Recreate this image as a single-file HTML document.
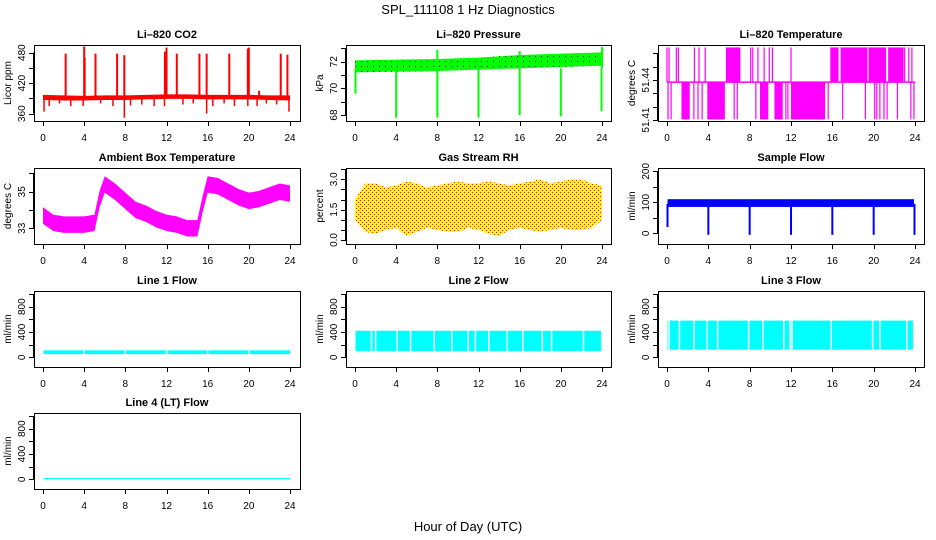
<!DOCTYPE html>
<html><head><meta charset="utf-8"><style>
html,body{margin:0;padding:0;background:#fff;}
svg{display:block;font-family:"Liberation Sans",sans-serif;}
</style></head><body>
<svg id="fig" width="936" height="540" viewBox="0 0 936 540" xmlns="http://www.w3.org/2000/svg">
<defs>
<pattern id="dotsBlack" width="6" height="5" patternUnits="userSpaceOnUse"><rect x="1" y="1" width="1" height="1" fill="#000"/></pattern>
<pattern id="dotsRed" width="4" height="4" patternUnits="userSpaceOnUse"><rect x="0" y="0" width="1" height="1" fill="#f00"/><rect x="2" y="2" width="1" height="1" fill="#f00"/></pattern>
</defs>
<text x="468" y="14" font-size="13" text-anchor="middle">SPL_111108  1 Hz Diagnostics</text>
<text x="468" y="531" font-size="13" text-anchor="middle">Hour of Day (UTC)</text>
</svg>
<script>
// ---------- data ----------
const xTicks = [0,4,8,12,16,20,24];
// CO2
const co2BandHours = [0,2,4,6,8,10,12,14,16,18,20,22,24];
const co2BandLo = [387,386,386,387,387,388,389,389,388,388,388,387,386];
const co2BandHi = [397,396,395,396,396,397,398,398,397,397,397,396,396];
const co2UpHours = [2.2,4.0,4.05,5.1,7.2,7.9,11.85,12.0,13.0,15.2,15.9,18.1,19.9,20.0,21.0,23.1,23.75];
const co2UpVals  = [478,492,470,478,478,475,482,490,478,478,478,478,488,490,405,478,476];
const co2DnHours = [0.1,0.6,1.6,2.7,3.9,5.6,6.8,7.9,8.5,9.6,10.8,11.8,13.6,14.6,15.9,16.5,17.6,18.6,19.9,20.8,21.7,22.7,23.9];
const co2DnVals  = [364,375,380,375,375,380,375,352,376,378,375,375,378,380,360,375,380,375,375,375,380,378,364];
// Pressure
const presHours = [0,4,8,12,16,20,24];
const presLo = [71.2,71.25,71.3,71.4,71.5,71.6,71.7];
const presHi = [72.1,72.15,72.2,72.3,72.5,72.6,72.7];
const presDipHours = [0.05,4,8,12,16,20,23.95];
const presDipVals = [69.6,67.8,67.8,67.8,68.0,67.9,68.3];
const presTopHours = [8.0,16.0,24.0];
const presTopVals = [72.9,72.8,73.1];
// Li-820 temperature (levels)
const tempLevels = [51.4105,51.4385,51.4645];
const tempTopRanges = [[5.7,7.1],[15.8,16.6],[16.8,19.4],[19.5,21.2],[21.4,22.9]];
const tempTopLines = [0.0,0.2,0.9,1.1,2.65,3.1,3.7,8.1,8.3,8.8,9.4,9.9,10.2,12.0,23.0,23.4,23.7];
const tempBotRanges = [[1.4,2.2],[3.9,5.6],[9.0,9.8],[10.4,11.2],[12.0,15.3]];
const tempBotLines = [0.1,0.4,2.6,3.0,3.4,6.5,6.8,8.6,11.5,11.7,15.6,17.0,19.2,20.1,20.3,20.6,21.0,21.3,22.3,23.6,23.9];
// Ambient box temperature
const ambHours = [0,1,2,3,4,5,5.5,6,7,8,9,10,11,12,13,14,15,15.5,16,17,18,19,20,21,22,23,24];
const ambMid = [33.7,33.3,33.2,33.2,33.2,33.3,34.6,35.4,35.0,34.5,34.0,33.8,33.5,33.3,33.2,33.0,33.0,34.3,35.4,35.3,35.0,34.7,34.5,34.6,34.8,35.0,34.9];
// Gas stream RH
const rhHours = [0,1,2,3,4,5,6,7,8,9,10,11,12,13,14,15,16,17,18,19,20,21,22,23,24];
const rhHi = [2.0,2.8,2.8,2.6,2.7,2.9,2.8,2.6,2.7,2.8,2.9,2.8,2.8,2.9,2.8,2.7,2.8,2.9,3.0,2.8,2.9,3.0,3.0,2.8,2.7];
const rhLo = [1.0,0.4,0.3,0.5,0.6,0.2,0.4,0.6,0.5,0.4,0.4,0.6,0.5,0.3,0.2,0.5,0.6,0.5,0.4,0.5,0.6,0.5,0.5,0.6,1.0];
// Sample flow
const sfLo = 85, sfHi = 110;
const sfDipHours = [0.05,4,8,12,16,20,23.95];
const sfDipVals = [20,-5,-5,-5,-5,-5,-5];
// Line flows
const l1Lo = 50, l1Hi = 110;
const l1Gaps = [4,8,12,16,20];
const l2Lo = 100, l2Hi = 420;
const l2Gaps = [1.6,2.0,4.1,5.4,7.7,9.4,11.0,11.7,13.0,14.8,16.3,18.2,19.1,22.2];
const l3Lo = 120, l3Hi = 580;
const l3Gaps = [0.2,1.2,2.6,3.9,4.9,7.9,9.3,11.3,11.9,12.1,15.9,19.9,20.6,23.2];
const l4Lo = 3, l4Hi = 20;

// ---------- layout ----------
const svg = document.getElementById('fig');
const NS = 'http://www.w3.org/2000/svg';
const COLS = [{l:34,r:300,x0:43,x24:290},{l:346,r:611,x0:355,x24:602},{l:658,r:924,x0:667,x24:915}];
const ROWS = [{t:45,b:121},{t:168,b:244},{t:291,b:367},{t:413,b:489}];
function mk(tag, attrs, parent){const e=document.createElementNS(NS,tag);for(const k in attrs)e.setAttribute(k,attrs[k]);(parent||svg).appendChild(e);return e;}

function panel(name,col,row,title,ylab,lo,hi,yt,ylabels){
  const C=COLS[col],R=ROWS[row];
  const g=mk('g',{});
  
  
  const P={g,C,R,
    x:h=>C.x0+(C.x24-C.x0)*h/24,
    y:v=>R.b-(v-lo)/(hi-lo)*(R.b-R.t)};
  P.plot=mk('g',{},g);
  
  
  const t=mk('text',{x:(C.l+C.r)/2,y:R.t-7,'font-size':11,'font-weight':'bold','text-anchor':'middle'},g);
  t.textContent=title;
  
  
  const yl=mk('text',{transform:`translate(${C.l-23},${(R.t+R.b)/2}) rotate(-90)`,'font-size':10,'text-anchor':'middle'},g);
  yl.textContent=ylab;
  
  
  const ax=mk('g',{stroke:'#000','stroke-width':1,'shape-rendering':'crispEdges'},g);
  
  
  mk('line',{x1:P.x(0),x2:P.x(24),y1:R.b+0.5,y2:R.b+0.5},ax);
  xTicks.forEach(h=>{
    mk('line',{x1:Math.round(P.x(h))+0.5,x2:Math.round(P.x(h))+0.5,y1:R.b,y2:R.b+5},ax);
    const tx=mk('text',{x:P.x(h),y:R.b+20,'font-size':10,'text-anchor':'middle',stroke:'none'},g);
    tx.textContent=h;
    
    
  });
  mk('line',{x1:C.l-0.5,x2:C.l-0.5,y1:P.y(yt[0]),y2:P.y(yt[yt.length-1])},ax);
  yt.forEach(v=>{
    const yy=Math.round(P.y(v))+0.5;
    mk('line',{x1:C.l-5,x2:C.l,y1:yy,y2:yy},ax);
  });
  ylabels.forEach(v=>{
    const tl=mk('text',{transform:`translate(${C.l-9},${P.y(v[0])}) rotate(-90)`,'font-size':10,'text-anchor':'middle'},g);
    tl.textContent=v[1];
    
    
  });
  P.box=()=>{const b=mk('rect',{x:C.l+0.5,y:R.t+0.5,width:C.r-C.l,height:R.b-R.t,fill:'none',stroke:'#000','shape-rendering':'crispEdges'},g);
    
    };
  return P;
}
function band(P,hours,los,his,fill){
  let pts=hours.map((h,i)=>P.x(h)+','+P.y(his[i]));
  for(let i=hours.length-1;i>=0;i--)pts.push(P.x(hours[i])+','+P.y(los[i]));
  const p=mk('polygon',{points:pts.join(' '),fill:fill},P.plot);
  
  
  return p;
}
function vline(P,h,v1,v2,color,w){
  const l=mk('line',{x1:P.x(h),x2:P.x(h),y1:P.y(v1),y2:P.y(v2),stroke:color,'stroke-width':w||1.5},P.plot);
  
  
  return l;
}
function rectH(P,h1,h2,v1,v2,fill){
  const r=mk('rect',{x:P.x(h1),width:P.x(h2)-P.x(h1),y:P.y(Math.max(v1,v2)),height:Math.abs(P.y(v1)-P.y(v2)),fill:fill},P.plot);
  
  
  return r;
}

// ---- CO2 ----
let P=panel('co2',0,0,'Li\u2013820 CO2','Licor ppm',345.6,495,[360,390,420,450,480],[[360,'360'],[420,'420'],[480,'480']]);
band(P,co2BandHours,co2BandLo,co2BandHi,'#f00');
co2UpHours.forEach((h,i)=>vline(P,h,392,co2UpVals[i],'#f00',2));
co2DnHours.forEach((h,i)=>vline(P,h,392,co2DnVals[i],'#f00',1.5));
P.box();

// ---- Pressure ----
P=panel('pressure',1,0,'Li\u2013820 Pressure','kPa',67.55,73.25,[68,69,70,71,72,73],[[68,'68'],[70,'70'],[72,'72']]);
band(P,presHours,presLo,presHi,'#0f0');
band(P,presHours,presLo,presHi,'url(#dotsBlack)');
presDipHours.forEach((h,i)=>vline(P,h,71.5,presDipVals[i],'#0f0',2));
presTopHours.forEach((h,i)=>vline(P,h,71.5,presTopVals[i],'#0f0',2));
P.box();

// ---- Li-820 temperature ----
P=panel('li820-temp',2,0,'Li\u2013820 Temperature','degrees C',51.4093,51.4663,[51.41,51.42,51.43,51.44,51.45,51.46],[[51.41,'51.41'],[51.44,'51.44']]);
{const m=tempLevels[1],lo=tempLevels[0],hi=tempLevels[2];
 tempTopRanges.forEach(r=>rectH(P,r[0],r[1],m,hi,'#f0f'));
 tempBotRanges.forEach(r=>rectH(P,r[0],r[1],lo,m,'#f0f'));
 tempTopLines.forEach(h=>vline(P,h,m,hi,'#f0f',1.2));
 tempBotLines.forEach(h=>vline(P,h,lo,m,'#f0f',1.2));
 const ml=mk('line',{x1:P.x(0),x2:P.x(24),y1:P.y(m),y2:P.y(m),stroke:'#f0f','stroke-width':1.5},P.plot);
 
 }
P.box();

// ---- Ambient ----
P=panel('ambient-temp',0,1,'Ambient Box Temperature','degrees C',32.14,36.30,[33,34,35,36],[[33,'33'],[35,'35']]);
band(P,ambHours,ambMid.map(v=>v-0.45),ambMid.map(v=>v+0.45),'#f0f');
P.box();

// ---- RH ----
P=panel('gas-rh',1,1,'Gas Stream RH','percent',-0.2,3.56,[0,0.5,1,1.5,2,2.5,3,3.5],[[0,'0.0'],[1.5,'1.5'],[3,'3.0']]);
band(P,rhHours,rhLo,rhHi,'#ff0');
band(P,rhHours,rhLo,rhHi,'url(#dotsRed)');
P.box();

// ---- Sample flow ----
P=panel('sample-flow',2,1,'Sample Flow','ml/min',-34.5,210.6,[0,50,100,150,200],[[0,'0'],[100,'100'],[200,'200']]);
rectH(P,0.05,23.9,sfLo,sfHi,'#00f');
sfDipHours.forEach((h,i)=>vline(P,h,95,sfDipVals[i],'#00f',2));
P.box();

// ---- Line flows ----
const flowTicks=[0,200,400,600,800,1000], flowLabels=[[0,'0'],[400,'400'],[800,'800']];
function flowPanel(name,col,row,title,lo,hi,gaps,end){
  const Q=panel(name,col,row,title,'ml/min',-153,1048,flowTicks,flowLabels);
  rectH(Q,0.05,end,lo,hi,'#0ff');
  gaps.forEach(h=>vline(Q,h,lo,hi,'#fff',1.5));
  Q.box();
}
flowPanel('line1-flow',0,2,'Line 1 Flow',l1Lo,l1Hi,l1Gaps,24);
flowPanel('line2-flow',1,2,'Line 2 Flow',l2Lo,l2Hi,l2Gaps,23.9);
flowPanel('line3-flow',2,2,'Line 3 Flow',l3Lo,l3Hi,l3Gaps,23.8);
flowPanel('line4-flow',0,3,'Line 4 (LT) Flow',l4Lo,l4Hi,[],24);
</script>
</body></html>
